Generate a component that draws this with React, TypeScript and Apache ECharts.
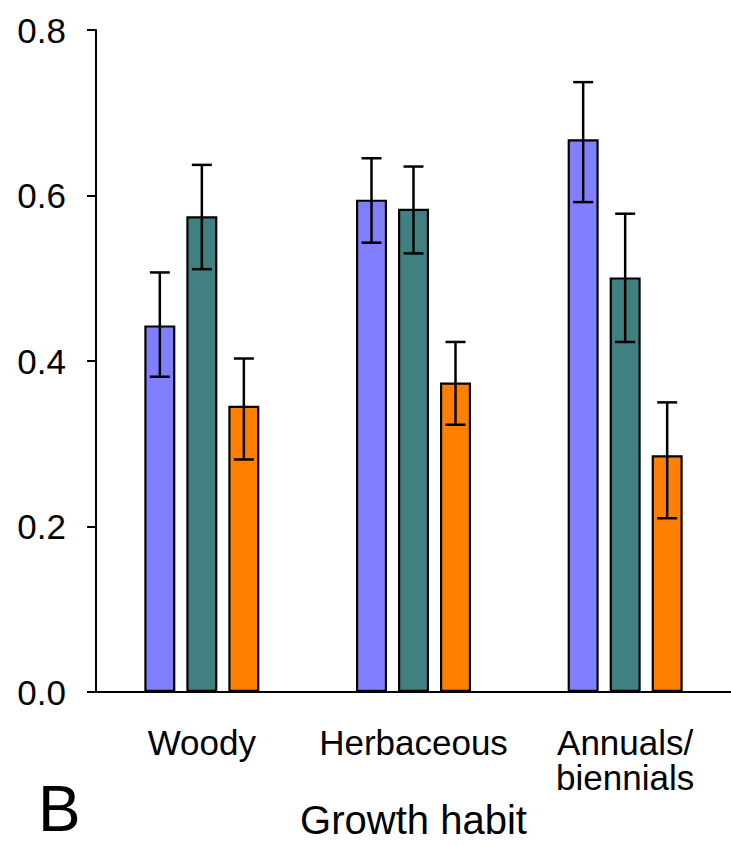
import { useEffect, useRef } from "react";
import * as echarts from "echarts";

const categories = ["Woody", "Herbaceous", "Annuals/\nbiennials"];
const seriesNames = ["Series 1", "Series 2", "Series 3"];
const seriesColors = ["#8080FF", "#408080", "#FF8000"];

const purpleValues = [0.443, 0.595, 0.668];
const tealValues = [0.575, 0.584, 0.501];
const orangeValues = [0.346, 0.374, 0.286];

const purpleLow = [0.381, 0.543, 0.592];
const purpleHigh = [0.507, 0.645, 0.737];
const tealLow = [0.511, 0.53, 0.423];
const tealHigh = [0.637, 0.635, 0.578];
const orangeLow = [0.281, 0.323, 0.21];
const orangeHigh = [0.403, 0.423, 0.35];

const yMin = 0;
const yMax = 0.8;
const yInterval = 0.2;

const FONT = "'Liberation Sans', Arial, Helvetica, sans-serif";
const BAR_WIDTH = 31;
const BAR_GAP_RATIO = 0.355;
const CAP_HALF = 10;

export default function App() {
  const ref = useRef<HTMLDivElement>(null);

  useEffect(() => {
    if (!ref.current) return;
    const chart = echarts.init(ref.current, null, { renderer: "svg" });

    const values = [purpleValues, tealValues, orangeValues];
    const lows = [purpleLow, tealLow, orangeLow];
    const highs = [purpleHigh, tealHigh, orangeHigh];
    const n = values.length;
    const step = BAR_WIDTH * (1 + BAR_GAP_RATIO);

    const barSeries = values.map((vals, k) => ({
      name: seriesNames[k],
      type: "bar",
      data: vals,
      barWidth: BAR_WIDTH,
      barGap: `${BAR_GAP_RATIO * 100}%`,
      itemStyle: { color: seriesColors[k], borderColor: "#000", borderWidth: 2.2 },
      z: 2,
    }));

    const errorSeries = values.map((_, k) => ({
      name: seriesNames[k] + " error",
      type: "custom",
      z: 10,
      data: categories.map((_c, i) => [i, lows[k][i], highs[k][i]]),
      encode: { x: 0, y: [1, 2] },
      renderItem: (_params: any, api: any) => {
        const i = api.value(0);
        const lo = api.coord([i, api.value(1)]);
        const hi = api.coord([i, api.value(2)]);
        const x = lo[0] + (k - (n - 1) / 2) * step;
        const style = { stroke: "#000", lineWidth: 2.5 };
        return {
          type: "group",
          children: [
            { type: "line", shape: { x1: x, y1: lo[1], x2: x, y2: hi[1] }, style },
            { type: "line", shape: { x1: x - CAP_HALF, y1: hi[1], x2: x + CAP_HALF, y2: hi[1] }, style },
            { type: "line", shape: { x1: x - CAP_HALF, y1: lo[1], x2: x + CAP_HALF, y2: lo[1] }, style },
          ],
        };
      },
    }));

    chart.setOption({
      animation: false,
      backgroundColor: "#fff",
      grid: { left: 96, right: 0, top: 30, bottom: 146 },
      xAxis: {
        type: "category",
        data: categories,
        name: "Growth habit",
        nameLocation: "middle",
        nameGap: 108,
        nameTextStyle: { fontSize: 40, color: "#000", fontFamily: FONT },
        axisLine: { lineStyle: { color: "#000", width: 2 } },
        axisTick: { alignWithLabel: true, length: 8, lineStyle: { color: "#000", width: 2 } },
        axisLabel: {
          interval: 0,
          color: "#000",
          fontSize: 35,
          lineHeight: 35,
          fontFamily: FONT,
          margin: 33,
        },
      },
      yAxis: {
        type: "value",
        min: yMin,
        max: yMax,
        interval: yInterval,
        splitLine: { show: false },
        axisLine: { show: true, lineStyle: { color: "#000", width: 2 } },
        axisTick: { show: true, length: 9, lineStyle: { color: "#000", width: 2 } },
        axisLabel: {
          color: "#000",
          fontSize: 35,
          fontFamily: FONT,
          margin: 30,
          formatter: (v: number) => v.toFixed(1),
        },
      },
      graphic: [
        {
          type: "text",
          left: 38,
          top: 777,
          style: { text: "B", fontSize: 64, lineHeight: 56, fill: "#000", fontFamily: FONT },
        },
      ],
      series: [...barSeries, ...errorSeries],
    });

    return () => chart.dispose();
  }, []);

  return (
    <div
      ref={ref}
      style={{ position: "fixed", left: 0, top: 0, width: 731, height: 845, background: "#fff" }}
    />
  );
}
